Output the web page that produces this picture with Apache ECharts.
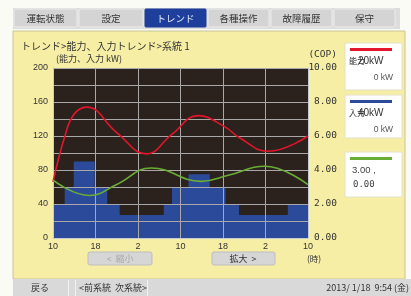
<!DOCTYPE html>
<html>
<head>
<meta charset="utf-8">
<script src="https://cdn.jsdelivr.net/npm/echarts@6/dist/echarts.min.js"></script>
<style>
html,body{margin:0;padding:0;background:#fbfbf6;}
#c{width:411px;height:296px;}
</style>
</head>
<body>
<div id="c"></div>
<script>
// ---- data ----
const xTickLabels = ['10', '18', '2', '10', '18', '2', '10'];
const tabs = ['運転状態', '設定', 'トレンド', '各種操作', '故障履歴', '保守'];
// input (kW) step bars: start hour of each segment, value of each segment
const inputStartHours = [0, 2.2, 3.9, 7.85, 10.2, 12.55, 20.85, 22.4, 25.5, 29.5, 32.5, 35.0, 44.2, 48];
const inputKW = [40, 60, 90, 60, 40, 27, 40, 60, 75, 60, 40, 27, 40];
// capacity (kW) curve
const capHours = [0, 2.2, 3.9, 6.3, 12, 17.6, 22.4, 27.3, 32.3, 35.1, 40.5, 48];
const capKW = [66, 119, 145, 154, 124, 99, 122, 144, 131, 118, 102, 120];
// COP curve
const copHours = [0, 6.9, 12, 18.5, 27.9, 33, 39.8, 48];
const cop = [3.4, 2.5, 3.15, 4.12, 3.33, 3.69, 4.22, 3.14];

const JP = '"Noto Sans CJK JP", sans-serif';
const NUM = '"Liberation Sans", Arial, sans-serif';

const inputData = inputStartHours.map((h, i) => [h, inputKW[Math.min(i, inputKW.length - 1)]]);
const capData = capHours.map((h, i) => [h, capKW[i]]);
const copData = copHours.map((h, i) => [h, cop[i]]);

// ---- UI chrome ----
const tabX = [13, 78, 144, 207, 270, 333, 396];
const graphics = [];
graphics.push({type: 'rect', z: -10, shape: {x: 13, y: 31, width: 392, height: 248}, style: {fill: '#f7eea5', stroke: '#c9c39a', lineWidth: 1}});
graphics.push({type: 'rect', z: -9, shape: {x: 13, y: 8, width: 387, height: 21}, style: {fill: '#dcdcdc'}});
tabs.forEach((t, i) => {
  const sel = i === 2;
  graphics.push({type: 'rect', z: -8, shape: {x: tabX[i] + 1, y: 9, width: tabX[i + 1] - tabX[i] - 2, height: 18, r: 1},
    style: {fill: sel ? '#1f3f9c' : '#d4d4d4', stroke: sel ? '#1f3f9c' : '#ececec', lineWidth: 1}});
  graphics.push({type: 'text', z: 5, style: {text: t, x: (tabX[i] + tabX[i + 1]) / 2, y: 18, textAlign: 'center', textVerticalAlign: 'middle',
    font: '9.5px ' + JP, fill: sel ? '#e8ecff' : '#333'}});
});
// title texts
graphics.push({type: 'text', z: 5, style: {text: 'トレンド>能力、入力トレンド>系統 1', x: 21, y: 46, textVerticalAlign: 'middle', font: '10px ' + JP, fill: '#333'}});
graphics.push({type: 'text', z: 5, style: {text: '(能力、入力 kW)', x: 56, y: 59, textVerticalAlign: 'middle', font: '9px ' + JP, fill: '#333'}});
graphics.push({type: 'text', z: 5, style: {text: '(COP)', x: 337, y: 55, textAlign: 'right', textVerticalAlign: 'middle', font: '9.5px "DejaVu Sans Mono", monospace', fill: '#333'}});
graphics.push({type: 'text', z: 5, style: {text: '(時)', x: 314, y: 259, textAlign: 'center', textVerticalAlign: 'middle', font: '8.5px ' + JP, fill: '#333'}});
// buttons
graphics.push({type: 'rect', z: -5, shape: {x: 88, y: 252, width: 64, height: 13, r: 2}, style: {fill: '#d6d6d6', stroke: '#bdbdbd', lineWidth: 1}});
graphics.push({type: 'text', z: 5, style: {text: '<  縮小', x: 120, y: 258.5, textAlign: 'center', textVerticalAlign: 'middle', font: '9px ' + JP, fill: '#a9a9a9'}});
graphics.push({type: 'rect', z: -5, shape: {x: 212, y: 252, width: 63, height: 13, r: 2}, style: {fill: '#d6d6d6', stroke: '#bdbdbd', lineWidth: 1}});
graphics.push({type: 'text', z: 5, style: {text: '拡大  >', x: 243, y: 258.5, textAlign: 'center', textVerticalAlign: 'middle', font: '9px ' + JP, fill: '#333'}});
// legend boxes
const boxes = [
  {y: 43, h: 47, color: '#e3152b', l1a: '能力', l1b: '20kW', l2: '0 kW'},
  {y: 95, h: 43, color: '#2c4a9a', l1a: '入力', l1b: '40kW', l2: '0 kW'},
  {y: 152, h: 45, color: '#6aad35', l1a: '', l1b: '3.00 ,', l2: '0.00'}
];
boxes.forEach((b, i) => {
  graphics.push({type: 'rect', z: -5, shape: {x: 345, y: b.y, width: 57, height: b.h}, style: {fill: '#ffffff', stroke: '#e4e0c8', lineWidth: 1}});
  graphics.push({type: 'rect', z: -4, shape: {x: 350, y: b.y + 5, width: 42, height: 3}, style: {fill: b.color}});
  if (i < 2) {
    graphics.push({type: 'text', z: 5, style: {text: b.l1a, x: 349, y: b.y + 18, textVerticalAlign: 'middle', font: '8px ' + JP, fill: '#333'}});
    graphics.push({type: 'text', z: 5, style: {text: b.l1b, x: 358, y: b.y + 18, textVerticalAlign: 'middle', font: '10px ' + NUM, fill: '#333'}});
    graphics.push({type: 'text', z: 5, style: {text: b.l2, x: 393, y: b.y + 35, textAlign: 'right', textVerticalAlign: 'middle', font: '8.5px ' + NUM, fill: '#555'}});
  } else {
    graphics.push({type: 'text', z: 5, style: {text: b.l1b, x: 352, y: b.y + 18, textVerticalAlign: 'middle', font: '9.5px ' + NUM, fill: '#444'}});
    graphics.push({type: 'text', z: 5, style: {text: b.l2, x: 353, y: b.y + 33, textVerticalAlign: 'middle', font: '9px "DejaVu Sans Mono", monospace', fill: '#444'}});
  }
});
// bottom bar
graphics.push({type: 'rect', z: -9, shape: {x: 13, y: 279, width: 398, height: 17}, style: {fill: '#d9d9d9'}});
[68, 75, 147].forEach(x => graphics.push({type: 'rect', z: -8, shape: {x: x, y: 280, width: 1, height: 16}, style: {fill: '#f2f2f2'}}));
graphics.push({type: 'text', z: 5, style: {text: '戻る', x: 40, y: 288, textAlign: 'center', textVerticalAlign: 'middle', font: '9px ' + JP, fill: '#333'}});
graphics.push({type: 'text', z: 5, style: {text: '<前系統', x: 79, y: 288, textVerticalAlign: 'middle', font: '9px ' + JP, fill: '#333'}});
graphics.push({type: 'text', z: 5, style: {text: '次系統>', x: 115, y: 288, textVerticalAlign: 'middle', font: '9px ' + JP, fill: '#333'}});
graphics.push({type: 'text', z: 5, style: {text: '2013/ 1/18  9:54 (金)', x: 409, y: 288, textAlign: 'right', textVerticalAlign: 'middle', font: '9px ' + JP, fill: '#333'}});

const chart = echarts.init(document.getElementById('c'), null, {renderer: 'canvas'});
chart.setOption({
  animation: false,
  backgroundColor: 'transparent',
  graphic: graphics,
  grid: {left: 53, top: 68, width: 255, height: 170, show: true, backgroundColor: '#2b221d', borderWidth: 0, z: 0},
  xAxis: {
    type: 'value', min: 0, max: 48, interval: 8, z: 3,
    axisLine: {show: true, lineStyle: {color: '#c5cbd6', width: 1}},
    axisTick: {show: false},
    splitLine: {show: true, lineStyle: {color: '#a8a8a8', width: 1}},
    axisLabel: {margin: 4, fontSize: 9, fontFamily: NUM, color: '#333',
      formatter: v => xTickLabels[Math.round(v / 8)]}
  },
  yAxis: [{
    type: 'value', min: 0, max: 200, interval: 20, z: 3,
    axisLine: {show: true, lineStyle: {color: '#c5cbd6', width: 1}},
    axisTick: {show: false},
    splitLine: {show: true, lineStyle: {color: '#a8a8a8', width: 1}},
    axisLabel: {margin: 5, fontSize: 9, fontFamily: NUM, color: '#333',
      formatter: v => (v % 40 === 0 ? String(v) : '')}
  }, {
    type: 'value', min: 0, max: 10, interval: 2, position: 'right', z: 3,
    axisLine: {show: true, lineStyle: {color: '#c5cbd6', width: 1}},
    axisTick: {show: false},
    splitLine: {show: false},
    axisLabel: {margin: 29, align: 'right', fontSize: 9.5, fontFamily: '"DejaVu Sans Mono", monospace', color: '#333',
      formatter: v => v.toFixed(2)}
  }],
  series: [{
    type: 'line', name: '入力', data: inputData, step: 'end', showSymbol: false, z: 2,
    lineStyle: {width: 0, color: '#2c4a9a'}, areaStyle: {color: '#2c4a9a', opacity: 1}
  }, {
    type: 'line', name: '能力', data: capData, smooth: 0.45, showSymbol: false, z: 5,
    lineStyle: {width: 1.6, color: '#e3152b'}
  }, {
    type: 'line', name: 'COP', data: copData, yAxisIndex: 1, smooth: 0.45, showSymbol: false, z: 5,
    lineStyle: {width: 1.6, color: '#6aad35'}
  }]
});
</script>
</body>
</html>
